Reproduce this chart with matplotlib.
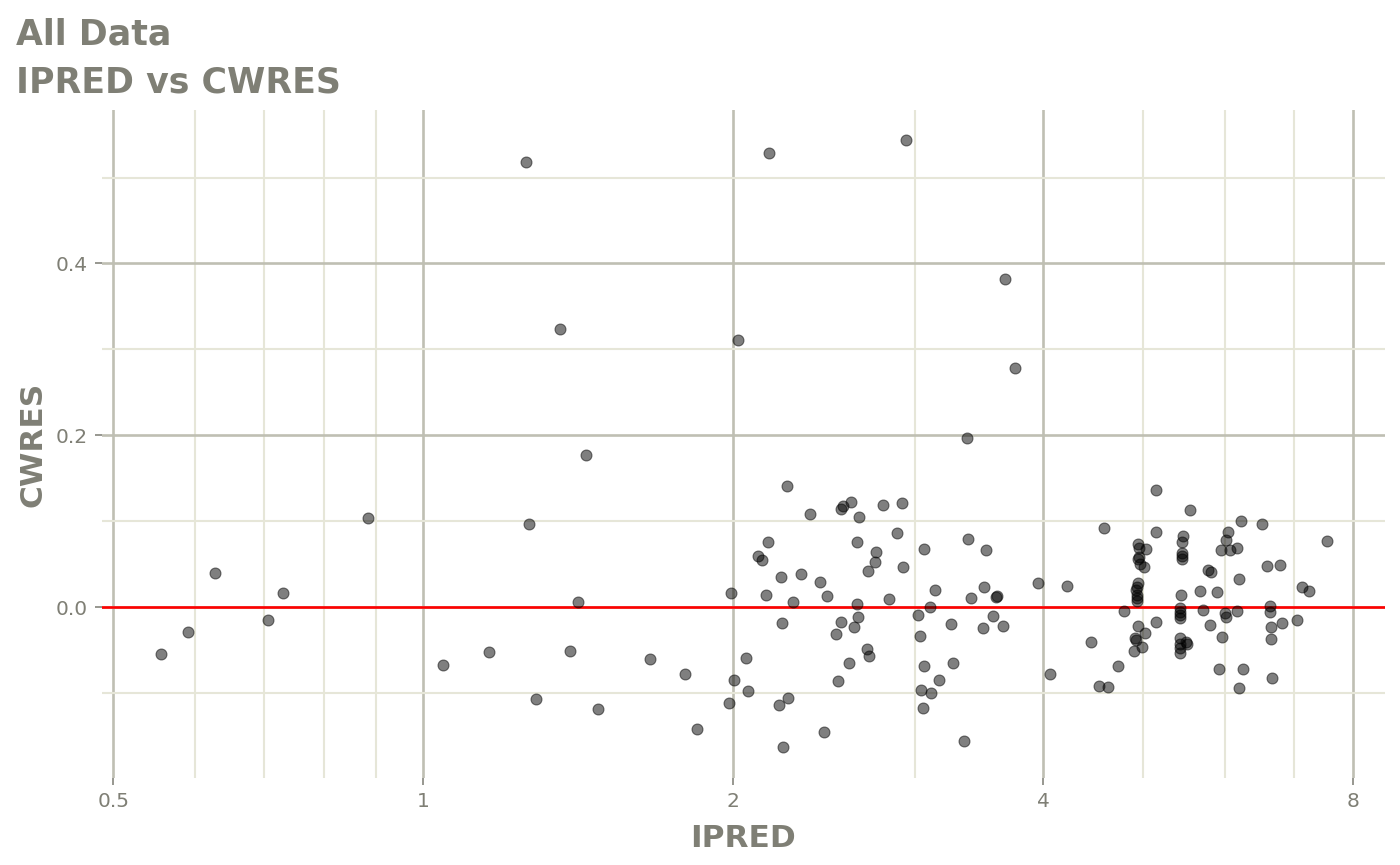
import matplotlib
matplotlib.use("Agg")
import matplotlib.pyplot as plt
from matplotlib.ticker import FixedLocator, NullFormatter

# values
ipred = [
    0.556, 0.591, 0.628, 0.707, 0.731, 0.883, 1.044,
    1.259, 2.166, 1.358, 2.021, 1.439,
    2.942, 3.675, 3.755, 3.371,
    1.266, 1.412, 1.158, 1.387, 1.660, 1.797, 1.286, 1.477, 1.845,
    2.257, 2.373, 2.543, 2.558, 2.602, 2.647, 2.793, 2.917, 2.160, 2.115,
    2.131, 2.637, 2.752, 2.747, 2.701, 2.884, 2.925, 3.061, 2.227, 2.329,
    2.426, 1.988, 2.150, 2.286, 2.465, 2.637, 2.831, 3.139, 3.107, 2.231,
    2.546, 2.642, 2.618, 2.516, 3.020, 3.034, 2.056, 2.695, 2.711, 2.591,
    3.063, 2.003, 2.528, 3.166, 2.066, 1.981, 2.215, 2.260, 3.043, 3.109,
    3.058, 2.448, 2.235,
    3.382, 3.519, 3.401, 3.506, 3.603, 3.600, 3.256, 3.498, 3.577, 3.653,
    3.267, 3.352, 3.953, 4.220, 4.582, 4.447, 4.724, 4.063, 4.528, 4.619,
    5.146, 5.549, 6.223, 5.150, 5.463, 5.454, 4.947, 4.954, 5.033, 5.454,
    5.454, 5.454, 4.947, 4.954, 4.965, 5.007, 6.049, 6.022, 5.952, 6.068,
    6.164, 5.777, 5.816, 6.200, 4.947, 4.932, 4.924, 4.932, 4.932, 4.932,
    5.446, 5.682, 5.898, 4.788, 5.434, 5.434, 5.434, 5.434, 5.720, 6.004,
    6.018, 6.172, 4.943, 5.150, 5.025, 4.910, 4.921, 4.984, 4.902, 5.803,
    5.969, 5.426, 5.426, 5.500, 5.516, 5.434, 5.434, 5.921, 6.255, 6.191,
    6.528, 7.538, 6.596, 6.795, 7.134, 7.241, 6.636, 6.646, 6.821, 7.049,
    6.656, 6.656, 6.671,
]
cwres = [
    -0.054, -0.028, 0.040, -0.015, 0.017, 0.104, -0.067,
    0.518, 0.529, 0.324, 0.311, 0.177,
    0.544, 0.382, 0.278, 0.197,
    0.097, 0.006, -0.052, -0.051, -0.060, -0.077, -0.106, -0.118, -0.141,
    0.141, 0.109, 0.115, 0.118, 0.123, 0.105, 0.119, 0.122, 0.076, 0.060,
    0.055, 0.076, 0.065, 0.053, 0.042, 0.087, 0.047, 0.068, 0.036, 0.039,
    0.030, 0.017, 0.015, 0.006, 0.013, 0.004, 0.010, 0.020, 0.000, -0.018,
    -0.017, -0.011, -0.023, -0.031, -0.009, -0.033, -0.059, -0.048, -0.056, -0.065,
    -0.068, -0.084, -0.086, -0.084, -0.097, -0.111, -0.113, -0.105, -0.096, -0.099,
    -0.117, -0.145, -0.162,
    0.080, 0.067, 0.011, 0.024, 0.013, 0.012, -0.019, -0.024, -0.010, -0.021,
    -0.065, -0.155, 0.029, 0.025, 0.092, -0.040, -0.068, -0.077, -0.091, -0.093,
    0.137, 0.113, 0.100, 0.088, 0.083, 0.076, 0.074, 0.069, 0.068, 0.063,
    0.060, 0.056, 0.056, 0.059, 0.051, 0.047, 0.088, 0.078, 0.067, 0.067,
    0.069, 0.044, 0.041, 0.033, 0.029, 0.024, 0.020, 0.015, 0.011, 0.008,
    0.014, 0.019, 0.018, -0.004, -0.001, -0.005, -0.009, -0.012, -0.003, -0.006,
    -0.011, -0.004, -0.022, -0.017, -0.030, -0.035, -0.038, -0.046, -0.051, -0.020,
    -0.034, -0.036, -0.042, -0.040, -0.042, -0.047, -0.053, -0.072, -0.072, -0.094,
    0.097, 0.077, 0.048, 0.049, 0.024, 0.019, 0.002, -0.005, -0.018, -0.015,
    -0.023, -0.037, -0.082,
]

x_major = [0.5, 1, 2, 4, 8]
x_labels = ["0.5", "1", "2", "4", "8"]
x_minor = [0.6, 0.7, 0.8, 0.9, 3, 5, 6, 7]
y_major = [0.0, 0.2, 0.4]
y_labels = ["0.0", "0.2", "0.4"]
y_minor = [-0.1, 0.1, 0.3, 0.5]

text_col = "#7f7f75"
major_col = "#bfbfb3"
minor_col = "#e6e6d8"

fig = plt.figure(figsize=(14, 8.65), dpi=100)
ax = fig.add_axes([102 / 1400, 1 - 778 / 865, 1283 / 1400, 668 / 865])

ax.set_xscale("log", base=2)
ax.set_xlim(0.4875, 8.587)
ax.set_ylim(-0.1983, 0.5785)

ax.xaxis.set_major_locator(FixedLocator(x_major))
ax.set_xticklabels(x_labels)
ax.xaxis.set_minor_locator(FixedLocator(x_minor))
ax.xaxis.set_minor_formatter(NullFormatter())
ax.set_yticks(y_major)
ax.set_yticklabels(y_labels)
ax.yaxis.set_minor_locator(FixedLocator(y_minor))

ax.grid(which="major", color=major_col, linewidth=1.9, zorder=0)
ax.grid(which="minor", color=minor_col, linewidth=1.5, zorder=0)
ax.set_axisbelow(True)
for s in ax.spines.values():
    s.set_visible(False)

ax.tick_params(which="major", length=5, width=1.2, color="#85857d",
               labelsize=14.5, labelcolor=text_col, pad=5)
ax.tick_params(which="minor", length=0)

ax.axhline(0, color="#ff0000", linewidth=1.9, zorder=2)
ax.scatter(ipred, cwres, s=62, c="black", alpha=0.5, edgecolors="black",
           linewidths=0.8, zorder=3)

fig.text(16 / 1400, 1 - 44.3 / 865, "All Data", fontsize=25, fontweight="bold",
         color=text_col, ha="left", va="baseline")
fig.text(16 / 1400, 1 - 92.3 / 865, "IPRED vs CWRES", fontsize=25,
         fontweight="bold", color=text_col, ha="left", va="baseline")
fig.text(743.5 / 1400, 1 - 847.3 / 865, "IPRED", fontsize=22.5,
         fontweight="bold", color=text_col, ha="center", va="baseline")
fig.text(33 / 1400, 1 - 444 / 865, "CWRES", fontsize=22.5, fontweight="bold",
         color=text_col, ha="center", va="center", rotation=90)

fig.savefig("out.png", dpi=100)
